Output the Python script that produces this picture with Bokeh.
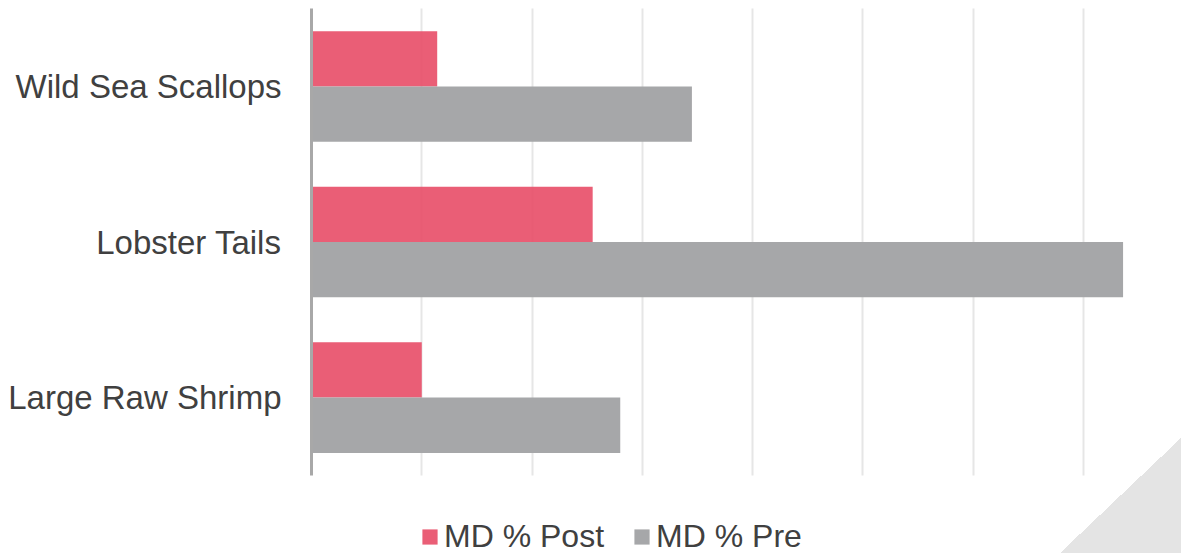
from bokeh.plotting import figure
from bokeh.models import Range1d, SingleIntervalTicker, FixedTicker, Legend, LegendItem, ColumnDataSource
from bokeh.transform import dodge
from bokeh.embed import file_html
from bokeh.resources import INLINE

categories = ["Large Raw Shrimp", "Lobster Tails", "Wild Sea Scallops"]
md_post = [1.0, 2.55, 1.14]
md_pre = [2.80, 7.36, 3.45]
series_names = ["MD % Post", "MD % Pre"]

FONT = "Liberation Sans"
TEXT = "#404040"

idx = list(range(len(categories)))
src = ColumnDataSource(dict(idx=idx, cat=categories, post=md_post, pre=md_pre))

p = figure(width=1181, height=553, output_backend="svg", toolbar_location=None,
           y_range=Range1d(-1.003, 2.553),
           x_range=Range1d(0, 7.5),
           min_border_left=311, min_border_right=43, min_border_top=0, min_border_bottom=0)
p.outline_line_color = None
p.background_fill_alpha = 0
p.border_fill_alpha = 0
p.styles = {
    "background": "linear-gradient(to top left, #E4E4E4 50%, rgba(255,255,255,0) 50%) right bottom / 121px 115px no-repeat, #ffffff",
}

r_post = p.hbar(y=dodge("idx", 0.178), right="post", left=0, height=0.356,
                source=src, fill_color="#E8506A", fill_alpha=0.92, line_color=None)
r_pre = p.hbar(y=dodge("idx", -0.178), right="pre", left=0, height=0.356,
               source=src, fill_color="#A3A4A6", fill_alpha=0.97, line_color=None)

p.xaxis.visible = False
p.xaxis.ticker = SingleIntervalTicker(interval=1)
p.xgrid.ticker = SingleIntervalTicker(interval=1)
p.xgrid.grid_line_color = "#E6E6E6"
p.xgrid.grid_line_width = 2
p.xgrid.cross_bounds = (-0.5, 2.5)
p.ygrid.grid_line_color = None

ya = p.yaxis[0]
ya.ticker = FixedTicker(ticks=idx)
ya.major_label_overrides = {i: c for i, c in zip(idx, categories)}
ya.bounds = (-0.5, 2.5)
ya.axis_line_color = "#A8A8A8"
ya.axis_line_width = 3
ya.major_tick_line_color = None
ya.minor_tick_line_color = None
ya.major_tick_out = 0
ya.major_tick_in = 0
ya.major_label_standoff = 30
ya.major_label_text_font = FONT
ya.major_label_text_font_size = "33px"
ya.major_label_text_color = TEXT

legend = Legend(items=[LegendItem(label=series_names[0], renderers=[r_post]),
                       LegendItem(label=series_names[1], renderers=[r_pre])],
                orientation="horizontal", location=(109, -2),
                glyph_width=19, glyph_height=19, label_standoff=5, spacing=28,
                padding=0, margin=0, border_line_color=None, background_fill_alpha=0,
                label_text_font=FONT, label_text_font_size="32px", label_text_color=TEXT)
p.add_layout(legend, "center")

open("out.html", "w").write(file_html(p, INLINE))
